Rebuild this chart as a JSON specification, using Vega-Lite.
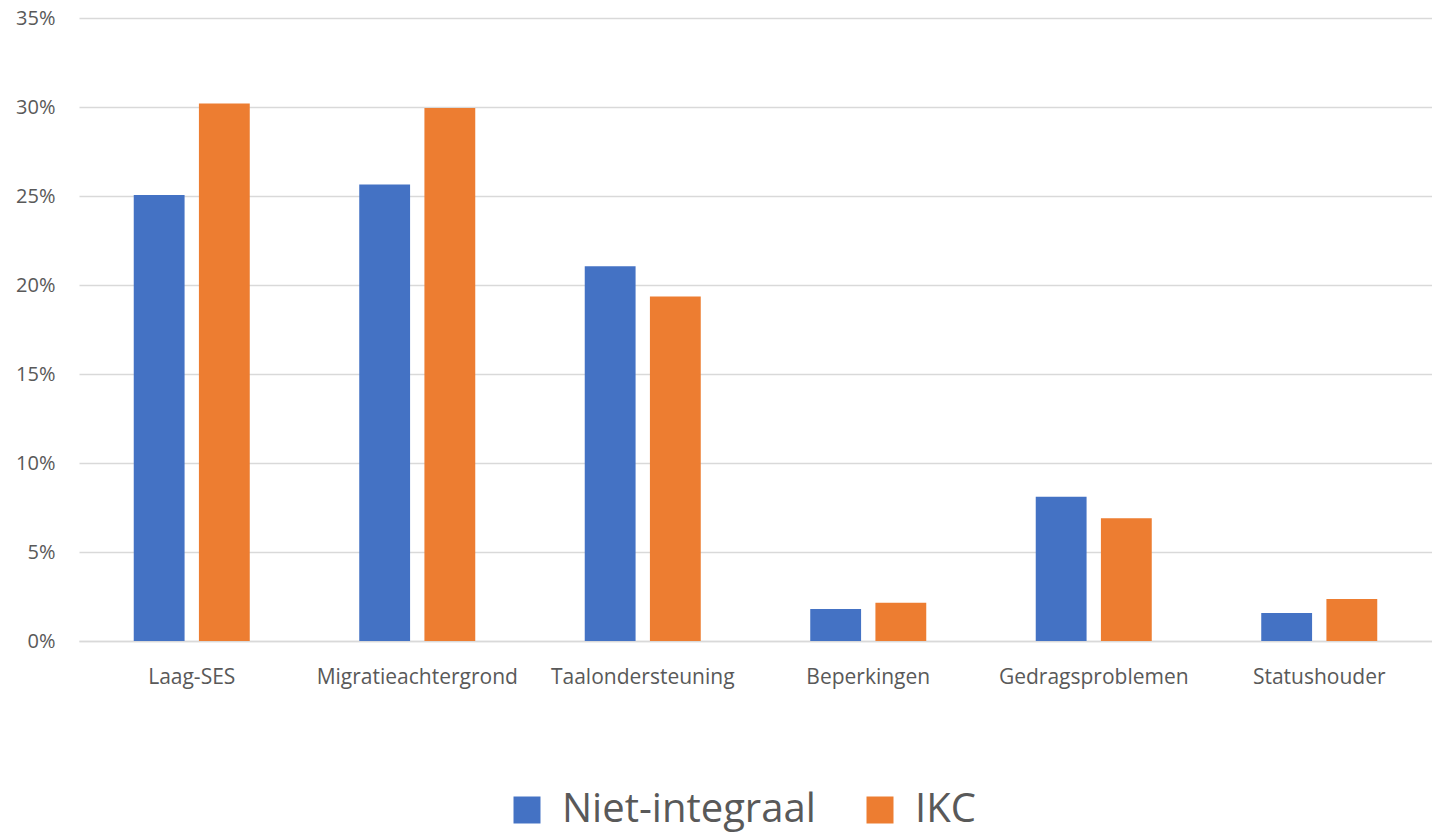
{
  "$schema": "https://vega.github.io/schema/vega-lite/v6.json",
  "autosize": {"type": "none"},
  "width": 1353,
  "height": 623,
  "padding": {"left": 79, "top": 18, "right": 0, "bottom": 193},
  "background": "white",
  "config": {
    "font": "Open Sans",
    "view": {"stroke": null}
  },
  "data": {
    "values": [
      {"categorie": "Laag-SES", "groep": "Niet-integraal", "aandeel": 0.2505},
      {"categorie": "Laag-SES", "groep": "IKC", "aandeel": 0.302},
      {"categorie": "Migratieachtergrond", "groep": "Niet-integraal", "aandeel": 0.2565},
      {"categorie": "Migratieachtergrond", "groep": "IKC", "aandeel": 0.2995},
      {"categorie": "Taalondersteuning", "groep": "Niet-integraal", "aandeel": 0.2105},
      {"categorie": "Taalondersteuning", "groep": "IKC", "aandeel": 0.1935},
      {"categorie": "Beperkingen", "groep": "Niet-integraal", "aandeel": 0.018},
      {"categorie": "Beperkingen", "groep": "IKC", "aandeel": 0.0215},
      {"categorie": "Gedragsproblemen", "groep": "Niet-integraal", "aandeel": 0.081},
      {"categorie": "Gedragsproblemen", "groep": "IKC", "aandeel": 0.069},
      {"categorie": "Statushouder", "groep": "Niet-integraal", "aandeel": 0.0157},
      {"categorie": "Statushouder", "groep": "IKC", "aandeel": 0.0236}
    ]
  },
  "mark": {"type": "bar"},
  "encoding": {
    "x": {
      "field": "categorie",
      "type": "nominal",
      "sort": null,
      "scale": {"paddingInner": 0, "paddingOuter": 0},
      "axis": {
        "title": null,
        "labelAngle": 0,
        "labelFontSize": 21,
        "labelColor": "#595959",
        "labelPadding": 25,
        "labelLimit": 0,
        "labelOverlap": false,
        "ticks": false,
        "domain": true,
        "domainColor": "#d9d9d9",
        "domainWidth": 1.5,
        "grid": false
      }
    },
    "xOffset": {
      "field": "groep",
      "type": "nominal",
      "sort": ["Niet-integraal", "IKC"],
      "scale": {"paddingInner": 0.22, "paddingOuter": 0.84}
    },
    "y": {
      "field": "aandeel",
      "type": "quantitative",
      "scale": {"domain": [0, 0.35], "nice": false},
      "axis": {
        "title": null,
        "format": ".0%",
        "values": [0, 0.05, 0.1, 0.15, 0.2, 0.25, 0.3, 0.35],
        "labelFontSize": 20,
        "labelColor": "#595959",
        "labelPadding": 24,
        "ticks": false,
        "domain": false,
        "grid": true,
        "gridColor": "#d9d9d9",
        "gridWidth": 1.5
      }
    },
    "color": {
      "field": "groep",
      "type": "nominal",
      "sort": ["Niet-integraal", "IKC"],
      "scale": {"domain": ["Niet-integraal", "IKC"], "range": ["#4472C4", "#ED7D31"]},
      "legend": {
        "title": null,
        "orient": "none",
        "direction": "horizontal",
        "legendX": 428,
        "legendY": 772,
        "symbolType": "square",
        "symbolSize": 729,
        "symbolStrokeWidth": 0,
        "symbolOpacity": 1,
        "labelFontSize": 40,
        "labelColor": "#595959",
        "labelOffset": 15,
        "columnPadding": 44,
        "labelLimit": 0
      }
    }
  }
}
